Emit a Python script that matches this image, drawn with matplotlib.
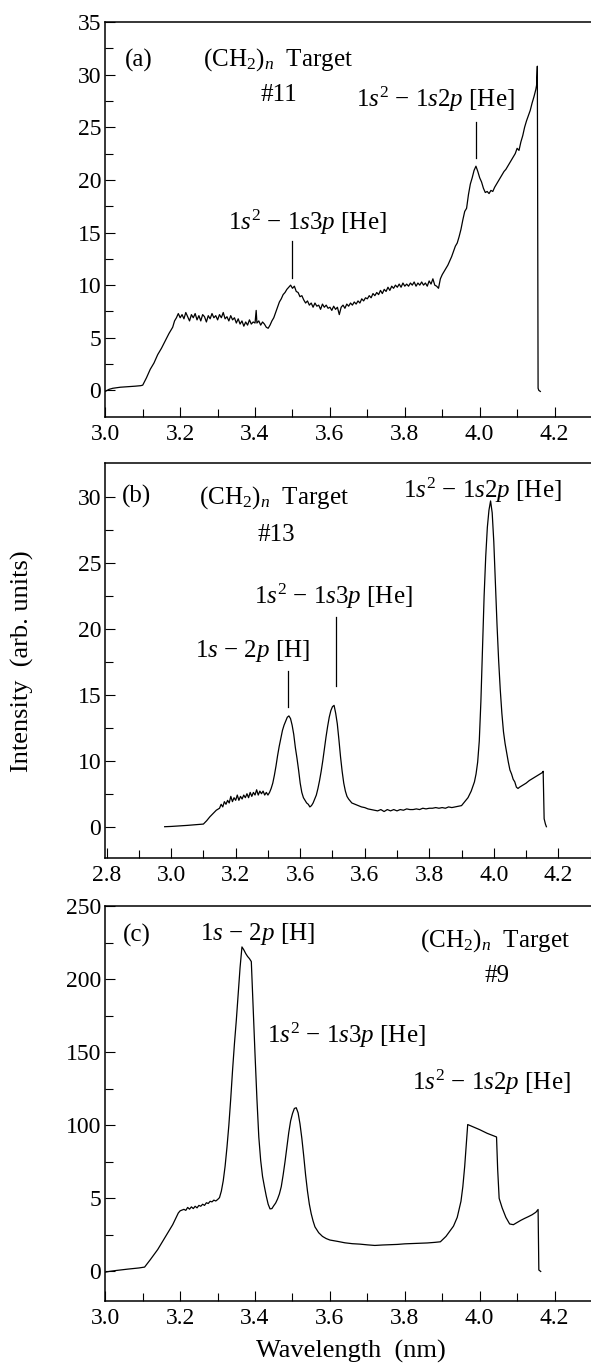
import matplotlib
matplotlib.use('Agg')
import matplotlib.pyplot as plt
from matplotlib.ticker import FixedLocator, MultipleLocator

plt.rcParams['font.family'] = ['Liberation Serif', 'DejaVu Serif']
plt.rcParams['mathtext.fontset'] = 'custom'
plt.rcParams['mathtext.rm'] = 'Liberation Serif'
plt.rcParams['mathtext.it'] = 'Liberation Serif:italic'

# panel (a): target #11
wl_a = [3.000, 3.010, 3.020, 3.040, 3.060, 3.080, 3.095, 3.100, 3.110, 3.120, 3.130, 3.140,
        3.150, 3.160, 3.170, 3.180, 3.185, 3.190, 3.195, 3.200, 3.205, 3.210, 3.215, 3.220,
        3.225, 3.230, 3.235, 3.240, 3.245, 3.250, 3.255, 3.260, 3.265, 3.270, 3.275, 3.280,
        3.285, 3.290, 3.295, 3.300, 3.305, 3.310, 3.315, 3.320, 3.325, 3.330, 3.335, 3.340,
        3.345, 3.350, 3.355, 3.360, 3.365, 3.370, 3.375, 3.380, 3.385, 3.390, 3.395, 3.400,
        3.403, 3.405, 3.410, 3.415, 3.420, 3.425, 3.430, 3.435, 3.440, 3.445, 3.450, 3.455,
        3.460, 3.465, 3.470, 3.475, 3.480, 3.485, 3.490, 3.495, 3.500, 3.505, 3.510, 3.515,
        3.520, 3.525, 3.530, 3.535, 3.540, 3.545, 3.550, 3.555, 3.560, 3.565, 3.570, 3.575,
        3.580, 3.585, 3.590, 3.595, 3.600, 3.605, 3.610, 3.615, 3.620, 3.625, 3.630, 3.635,
        3.640, 3.645, 3.650, 3.655, 3.660, 3.665, 3.670, 3.675, 3.680, 3.685, 3.690, 3.695,
        3.700, 3.705, 3.710, 3.715, 3.720, 3.725, 3.730, 3.735, 3.740, 3.745, 3.750, 3.755,
        3.760, 3.765, 3.770, 3.775, 3.780, 3.785, 3.790, 3.795, 3.800, 3.805, 3.810, 3.815,
        3.820, 3.825, 3.830, 3.835, 3.840, 3.845, 3.850, 3.855, 3.860, 3.865, 3.870, 3.875,
        3.880, 3.885, 3.890, 3.895, 3.900, 3.905, 3.910, 3.915, 3.920, 3.925, 3.930, 3.935,
        3.940, 3.945, 3.950, 3.955, 3.960, 3.965, 3.970, 3.975, 3.980, 3.985, 3.990, 3.995,
        4.000, 4.005, 4.010, 4.015, 4.020, 4.025, 4.030, 4.035, 4.040, 4.045, 4.050, 4.055,
        4.060, 4.065, 4.070, 4.075, 4.080, 4.085, 4.090, 4.095, 4.100, 4.105, 4.110, 4.115,
        4.120, 4.125, 4.130, 4.135, 4.140, 4.145, 4.150, 4.152, 4.154, 4.156, 4.158, 4.162]
int_a = [-0.1, 0.1, 0.2, 0.3, 0.35, 0.4, 0.45, 0.5, 1.2, 2.0, 2.6, 3.4,
         4.0, 4.7, 5.4, 6.0, 6.6, 6.9, 7.3, 6.9, 7.2, 6.8, 7.4, 7.0,
         6.6, 7.2, 6.9, 7.3, 6.7, 7.1, 6.6, 7.2, 7.0, 6.5, 7.1, 6.8,
         7.3, 6.9, 7.1, 6.7, 7.2, 6.9, 7.4, 6.8, 7.0, 6.6, 7.1, 6.7,
         6.9, 6.4, 6.8, 6.3, 6.6, 6.1, 6.5, 6.2, 6.7, 6.3, 6.5, 6.4,
         7.6, 6.4, 6.6, 6.2, 6.5, 6.3, 6.0, 5.9, 6.2, 6.6, 6.9, 7.4,
         7.9, 8.4, 8.7, 9.1, 9.3, 9.6, 9.8, 10.0, 9.7, 9.9, 9.4, 9.3,
         8.9, 9.0, 8.6, 8.3, 8.5, 8.1, 8.3, 7.9, 8.3, 8.0, 8.1, 7.7,
         8.2, 7.9, 8.1, 7.8, 7.9, 7.6, 8.0, 7.7, 7.9, 7.2, 7.9, 8.1,
         7.8, 8.2, 8.0, 8.3, 8.1, 8.4, 8.2, 8.5, 8.3, 8.7, 8.5, 8.8,
         8.7, 9.0, 8.8, 9.2, 9.0, 9.3, 9.1, 9.5, 9.2, 9.6, 9.4, 9.8,
         9.5, 9.9, 9.7, 10.0, 9.8, 10.1, 9.8, 10.2, 9.9, 10.1, 9.9, 10.2,
         10.0, 10.3, 9.9, 10.2, 10.0, 10.3, 10.0, 10.2, 9.9, 10.4, 10.1, 10.6,
         10.0, 9.9, 9.7, 10.6, 11.0, 11.3, 11.6, 11.9, 12.3, 12.7, 13.2, 13.7,
         14.0, 14.6, 15.3, 16.2, 17.0, 17.3, 18.6, 19.6, 20.2, 20.9, 21.3, 20.8,
         20.2, 19.8, 19.2, 18.8, 18.9, 18.7, 19.0, 18.9, 19.3, 19.6, 19.9, 20.2,
         20.5, 20.8, 21.0, 21.3, 21.6, 21.9, 22.2, 22.5, 23.0, 22.8, 23.6, 24.2,
         25.0, 25.6, 26.1, 26.6, 27.3, 27.9, 28.6, 29.0, 30.8, 0.2, 0.0, -0.1]

# panel (b): target #13 (tick "0" sits where 5 would be)
wl_b = [2.980, 3.000, 3.050, 3.100, 3.110, 3.120, 3.130, 3.140, 3.150, 3.155, 3.160, 3.165,
        3.170, 3.175, 3.180, 3.185, 3.190, 3.195, 3.200, 3.205, 3.210, 3.215, 3.220, 3.225,
        3.230, 3.235, 3.240, 3.245, 3.250, 3.255, 3.260, 3.265, 3.270, 3.275, 3.280, 3.285,
        3.290, 3.295, 3.300, 3.305, 3.310, 3.315, 3.320, 3.325, 3.330, 3.335, 3.340, 3.345,
        3.350, 3.355, 3.360, 3.365, 3.370, 3.375, 3.380, 3.385, 3.390, 3.395, 3.400, 3.405,
        3.410, 3.415, 3.420, 3.425, 3.430, 3.435, 3.440, 3.445, 3.450, 3.455, 3.460, 3.465,
        3.470, 3.475, 3.480, 3.485, 3.490, 3.495, 3.500, 3.505, 3.510, 3.515, 3.520, 3.525,
        3.530, 3.535, 3.540, 3.545, 3.550, 3.560, 3.570, 3.580, 3.590, 3.600, 3.610, 3.620,
        3.630, 3.640, 3.650, 3.660, 3.670, 3.680, 3.690, 3.700, 3.710, 3.720, 3.730, 3.740,
        3.750, 3.760, 3.770, 3.780, 3.790, 3.800, 3.810, 3.820, 3.830, 3.840, 3.850, 3.860,
        3.870, 3.880, 3.890, 3.900, 3.910, 3.920, 3.930, 3.940, 3.945, 3.950, 3.955, 3.960,
        3.965, 3.970, 3.975, 3.980, 3.985, 3.990, 3.995, 4.000, 4.005, 4.010, 4.015, 4.020,
        4.025, 4.030, 4.035, 4.040, 4.045, 4.050, 4.055, 4.060, 4.065, 4.070, 4.075, 4.080,
        4.090, 4.100, 4.110, 4.120, 4.130, 4.140, 4.150, 4.153, 4.156, 4.160, 4.163]
int_b = [5.0, 5.02, 5.1, 5.2, 5.45, 5.75, 6.0, 6.25, 6.4, 6.7, 6.5, 6.9,
         6.7, 7.0, 6.8, 7.3, 6.9, 7.2, 7.0, 7.4, 7.0, 7.3, 7.1, 7.4,
         7.2, 7.5, 7.2, 7.6, 7.3, 7.6, 7.4, 7.8, 7.4, 7.7, 7.5, 7.7,
         7.4, 7.6, 7.4, 7.6, 7.9, 8.3, 8.9, 9.6, 10.4, 11.1, 11.7, 12.3,
         12.7, 13.0, 13.3, 13.4, 13.2, 12.7, 12.0, 11.0, 10.2, 9.3, 8.3, 7.6,
         7.2, 7.0, 6.8, 6.7, 6.5, 6.6, 6.8, 7.1, 7.4, 7.9, 8.5, 9.2,
         10.0, 10.9, 11.8, 12.6, 13.3, 13.8, 14.1, 14.2, 13.6, 12.8, 11.6, 10.3,
         9.2, 8.3, 7.7, 7.3, 7.1, 6.8, 6.7, 6.6, 6.5, 6.45, 6.35, 6.3,
         6.25, 6.2, 6.3, 6.15, 6.3, 6.2, 6.3, 6.2, 6.3, 6.25, 6.35, 6.3,
         6.3, 6.35, 6.3, 6.4, 6.35, 6.4, 6.4, 6.45, 6.4, 6.45, 6.4, 6.5,
         6.45, 6.5, 6.55, 6.6, 6.9, 7.2, 7.7, 8.4, 9.0, 9.9, 11.5, 14.5,
         18.5, 22.5, 25.5, 27.7, 29.0, 29.7, 28.8, 26.6, 23.5, 20.3, 17.6, 15.4,
         13.6, 12.2, 11.3, 10.6, 9.9, 9.3, 9.0, 8.6, 8.4, 8.0, 7.9, 8.0,
         8.15, 8.3, 8.5, 8.65, 8.8, 8.95, 9.1, 9.2, 5.6, 5.2, 5.0]

# panel (c): target #9 (tick "5" sits where 50 would be)
wl_c = [3.000, 3.010, 3.030, 3.060, 3.090, 3.105, 3.120, 3.140, 3.160, 3.180, 3.195, 3.200,
        3.210, 3.215, 3.220, 3.225, 3.230, 3.235, 3.240, 3.245, 3.250, 3.255, 3.260, 3.265,
        3.270, 3.275, 3.280, 3.285, 3.290, 3.295, 3.300, 3.305, 3.310, 3.315, 3.320, 3.325,
        3.330, 3.335, 3.340, 3.345, 3.350, 3.355, 3.360, 3.365, 3.370, 3.375, 3.380, 3.385,
        3.390, 3.395, 3.400, 3.405, 3.410, 3.415, 3.420, 3.425, 3.430, 3.435, 3.440, 3.445,
        3.450, 3.455, 3.460, 3.465, 3.470, 3.475, 3.480, 3.485, 3.490, 3.495, 3.500, 3.505,
        3.510, 3.515, 3.520, 3.525, 3.530, 3.535, 3.540, 3.545, 3.550, 3.555, 3.560, 3.570,
        3.580, 3.590, 3.600, 3.620, 3.640, 3.660, 3.680, 3.700, 3.720, 3.740, 3.760, 3.780,
        3.800, 3.820, 3.840, 3.860, 3.880, 3.895, 3.900, 3.910, 3.920, 3.930, 3.940, 3.950,
        3.955, 3.960, 3.965, 3.968, 4.000, 4.020, 4.045, 4.048, 4.052, 4.060, 4.070, 4.080,
        4.090, 4.100, 4.110, 4.120, 4.130, 4.140, 4.150, 4.156, 4.158, 4.163]
int_c = [-0.5, 0.0, 0.7, 1.6, 2.4, 3.0, 8.0, 15.0, 23.5, 32.0, 40.0, 41.5,
         42.5, 41.8, 43.8, 42.6, 44.2, 43.0, 44.6, 43.5, 45.2, 44.6, 46.0, 45.2,
         47.0, 46.5, 48.0, 47.6, 48.8, 48.2, 49.2, 50.5, 55.0, 62.0, 72.0, 85.0,
         100.0, 118.0, 138.0, 156.0, 172.0, 190.0, 208.0, 222.0, 220.0, 217.5, 215.5, 214.0,
         212.0, 180.0, 148.0, 118.0, 92.0, 76.0, 65.0, 58.0, 51.5, 46.0, 42.8, 43.0,
         45.0, 46.8, 49.5, 53.0, 58.0, 66.0, 75.0, 85.0, 95.0, 103.0, 108.0, 111.5,
         112.0, 108.5, 101.0, 91.0, 79.0, 66.0, 55.0, 46.0, 39.5, 34.5, 30.5, 26.5,
         24.0, 22.5, 21.5, 20.6, 19.6, 19.0, 18.7, 18.2, 17.8, 18.1, 18.3, 18.5,
         18.9, 19.1, 19.3, 19.5, 19.9, 20.3, 21.5, 24.0, 27.5, 31.0, 37.0, 48.0,
         58.0, 72.0, 90.0, 100.5, 97.0, 94.5, 92.0, 70.0, 50.0, 43.5, 37.0, 32.5,
         32.0, 33.5, 35.0, 36.3, 37.5, 38.8, 40.5, 42.4, 1.0, 0.0]

xticks_ac = [3.0, 3.2, 3.4, 3.6, 3.8, 4.0, 4.2]
xticks_b = [2.8, 3.0, 3.2, 3.4, 3.6, 3.8, 4.0, 4.2]
xlabels_b = ['2.8', '3.0', '3.2', '3.6', '3.6', '3.8', '4.0', '4.2']
yticks_a = [0, 5, 10, 15, 20, 25, 30, 35]
yticks_b = [5, 10, 15, 20, 25, 30]
ylabels_b = ['0', '10', '15', '20', '25', '30']
yticks_c = [0, 50, 100, 150, 200, 250]
ylabels_c = ['0', '5', '100', '150', '200', '250']

he2 = r'1$s^2$ − 1$s$2$p$ [He]'
he3 = r'1$s^2$ − 1$s$3$p$ [He]'
h2 = r'1$s$ − 2$p$ [H]'
tgt = r'(CH$_2$)$_n$  Target'

W, H = 591, 1364
fig = plt.figure(figsize=(W / 100, H / 100), dpi=100)


def make_ax(top, bottom, x1):
    ax = fig.add_axes([105.3 / W, 1 - bottom / H, (x1 - 105.3) / W, (bottom - top) / H])
    ax.spines['right'].set_visible(False)
    for s in ['left', 'top', 'bottom']:
        ax.spines[s].set_linewidth(1.1)
    ax.tick_params(which='both', direction='in', top=False, right=False,
                   labelsize=17, width=0.8, pad=3)
    ax.tick_params(which='major', length=7.5)
    ax.tick_params(which='minor', length=5.5)
    ax.tick_params(axis='x', pad=5)
    return ax


lw = 0.9
fs = 18

# (a)
ax = make_ax(22, 416.7, 592)
ax.plot(wl_a, int_a, color='black', lw=lw)
ax.set_xlim(3.0, 4.3)
ax.set_ylim(-2.5, 35)
ax.xaxis.set_major_locator(FixedLocator(xticks_ac))
ax.xaxis.set_minor_locator(MultipleLocator(0.1))
ax.set_xticklabels(['%.1f' % v for v in xticks_ac])
ax.yaxis.set_major_locator(FixedLocator(yticks_a))
ax.yaxis.set_minor_locator(FixedLocator([2.5, 7.5, 12.5, 17.5, 22.5, 27.5, 32.5]))
ax.text(3.051, 30.8, '(a)', fontsize=fs)
ax.text(3.262, 30.85, tgt, fontsize=fs)
ax.text(3.463, 27.5, '#11', fontsize=fs, ha='center')
ax.text(3.670, 26.9, he2, fontsize=fs)
ax.text(3.327, 15.2, he3, fontsize=fs)
ax.plot([3.989, 3.989], [22.05, 25.5], color='black', lw=0.9)
ax.plot([3.498, 3.498], [10.7, 14.2], color='black', lw=0.9)

# (b)
ax = make_ax(462.7, 857.7, 590.6)
ax.plot(wl_b, int_b, color='black', lw=lw)
ax.set_xlim(2.796, 4.30)
ax.set_ylim(2.65, 32.6)
ax.xaxis.set_major_locator(FixedLocator(xticks_b))
ax.xaxis.set_minor_locator(MultipleLocator(0.1))
ax.set_xticklabels(xlabels_b)
ax.yaxis.set_major_locator(FixedLocator(yticks_b))
ax.yaxis.set_minor_locator(FixedLocator([7.5, 12.5, 17.5, 22.5, 27.5]))
ax.set_yticklabels(ylabels_b)
ax.text(2.847, 29.6, '(b)', fontsize=fs)
ax.text(3.087, 29.5, tgt, fontsize=fs)
ax.text(3.325, 26.7, '#13', fontsize=fs, ha='center')
ax.text(3.720, 29.9, he2, fontsize=fs)
ax.text(3.257, 21.9, he3, fontsize=fs)
ax.text(3.075, 17.9, h2, fontsize=fs)
ax.plot([3.512, 3.512], [15.7, 20.9], color='black', lw=0.9)
ax.plot([3.362, 3.362], [14.1, 16.8], color='black', lw=0.9)

# (c)
ax = make_ax(906, 1300.7, 592)
ax.plot(wl_c, int_c, color='black', lw=lw)
ax.set_xlim(3.0, 4.3)
ax.set_ylim(-20, 250)
ax.xaxis.set_major_locator(FixedLocator(xticks_ac))
ax.xaxis.set_minor_locator(MultipleLocator(0.1))
ax.set_xticklabels(['%.1f' % v for v in xticks_ac])
ax.yaxis.set_major_locator(FixedLocator(yticks_c))
ax.yaxis.set_minor_locator(FixedLocator([25, 75, 125, 175, 225]))
ax.set_yticklabels(ylabels_c)
ax.text(3.048, 225.6, '(c)', fontsize=fs)
ax.text(3.253, 226.8, h2, fontsize=fs)
ax.text(3.841, 222, tgt, fontsize=fs)
ax.text(4.046, 198, '#9', fontsize=fs, ha='center')
ax.text(3.431, 156.1, he3, fontsize=fs)
ax.text(3.819, 124.1, he2, fontsize=fs)

fig.text(350.8 / W, 1 - 1351 / H, 'Wavelength  (nm)', fontsize=19, ha='center', va='center')
fig.text(22.7 / W, 1 - 660.8 / H, 'Intensity  (arb. units)', rotation=90,
         fontsize=19, ha='center', va='center')

fig.savefig('out.png', dpi=100)
